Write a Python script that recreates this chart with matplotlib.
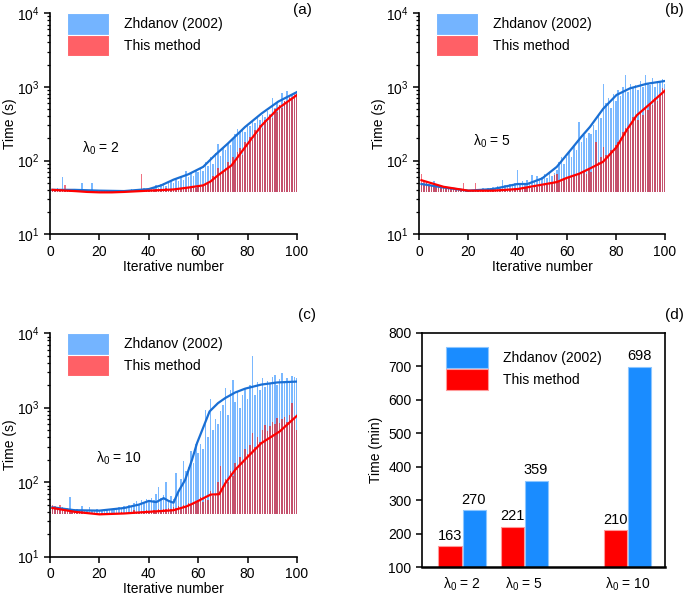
import numpy as np
import matplotlib
matplotlib.use("Agg")
import matplotlib.pyplot as plt
from matplotlib.patches import Patch

plt.rcParams['font.family'] = ['Liberation Sans', 'DejaVu Sans']
plt.rcParams['mathtext.fontset'] = 'custom'
plt.rcParams['mathtext.rm'] = 'Liberation Sans'
plt.rcParams['mathtext.it'] = 'Liberation Sans:italic'
plt.rcParams['font.size'] = 10

# iteraciones
iters = np.arange(1, 101)

# panel (a), lambda0 = 2
a_zh = [41, 40, 42, 41, 60, 40, 41, 40, 39, 40,
        40, 39, 50, 40, 39, 40, 50, 39, 38, 39,
        38, 39, 38, 39, 38, 40, 39, 38, 39, 40,
        39, 40, 41, 39, 40, 41, 40, 42, 41, 40,
        43, 44, 46, 42, 48, 50, 45, 52, 55, 50,
        58, 52, 62, 55, 72, 60, 68, 62, 75, 70,
        80, 72, 95, 85, 110, 90, 125, 170, 115, 150,
        140, 175, 160, 200, 230, 270, 250, 270, 240, 310,
        290, 340, 320, 380, 350, 420, 390, 470, 430, 700,
        520, 600, 560, 820, 650, 870, 700, 800, 760, 850]
a_our = [40, 41, 39, 40, 40, 47, 39, 38, 39, 38,
         38, 37, 38, 37, 37, 37, 38, 37, 37, 37,
         37, 38, 37, 38, 38, 37, 38, 39, 38, 39,
         38, 39, 38, 39, 40, 39, 65, 39, 40, 38,
         40, 39, 41, 40, 41, 40, 42, 41, 41, 40,
         42, 41, 43, 41, 44, 42, 43, 44, 42, 45,
         44, 47, 46, 48, 52, 62, 58, 80, 65, 72,
         78, 95, 85, 110, 98, 130, 150, 120, 180, 160,
         210, 190, 260, 230, 300, 280, 360, 330, 420, 380,
         500, 460, 560, 520, 650, 600, 720, 680, 800, 760]
a_zh_lx = [1, 10, 20, 30, 40, 45, 50, 56, 62, 67, 72, 79, 85.7, 92.4, 100]
a_zh_ly = [40, 40, 39, 38.5, 41, 46, 55, 65, 82, 120, 170, 286, 436, 630, 850]
a_our_lx = [1, 10, 15, 20, 25, 30, 40, 50, 56, 62, 65, 68, 73.5, 79, 85.7, 92.4, 100]
a_our_ly = [40, 38.5, 37.5, 37, 37, 37.5, 39, 40.5, 43, 46, 52, 63, 86, 152, 300, 510, 776]

# panel (b), lambda0 = 5
b_zh = [48, 46, 52, 45, 47, 53, 44, 46, 43, 45,
        42, 44, 41, 43, 40, 41, 39, 40, 39, 40,
        39, 40, 40, 41, 40, 42, 41, 43, 42, 44,
        43, 45, 44, 54, 46, 45, 48, 47, 49, 74,
        48, 52, 47, 55, 50, 63, 52, 62, 56, 60,
        65, 58, 70, 62, 67, 75, 95, 112, 90, 110,
        130, 110, 160, 140, 333, 180, 220, 200, 235, 230,
        300, 260, 420, 380, 1100, 600, 700, 520, 800, 650,
        900, 750, 1000, 1440, 850, 1100, 950, 1050, 900, 1200,
        1000, 1440, 1100, 1050, 1300, 1000, 1200, 1150, 1290, 1100]
b_our = [66, 52, 50, 48, 46, 45, 47, 44, 43, 44,
         42, 43, 41, 42, 40, 41, 40, 50, 39, 40,
         39, 40, 50, 39, 39, 40, 39, 40, 39, 40,
         39, 40, 39, 41, 40, 40, 41, 40, 42, 41,
         42, 41, 43, 42, 44, 43, 45, 44, 46, 45,
         47, 46, 48, 50, 63, 65, 52, 55, 58, 57,
         60, 62, 64, 66, 68, 70, 72, 66, 75, 70,
         80, 178, 95, 110, 152, 120, 115, 140, 130, 160,
         180, 200, 240, 280, 260, 320, 390, 380, 350, 440,
         420, 520, 480, 600, 560, 700, 650, 800, 950, 860]
b_zh_lx = [1, 10, 20, 30, 40, 44, 50, 56, 62.6, 66, 69.5, 74.9, 80.3, 85.8, 92.6, 100]
b_zh_ly = [48, 43, 39, 41, 48, 48, 57, 82, 152, 210, 286, 505, 776, 955, 1100, 1200]
b_our_lx = [1, 10, 20, 30, 40, 50, 56, 60, 65, 69.5, 74.8, 80.3, 84.4, 88.5, 94, 100]
b_our_ly = [54, 44, 39, 39, 41, 47, 51, 58, 66, 78, 96, 152, 258, 410, 590, 890]

# panel (c), lambda0 = 10
c_zh = [48, 46, 47, 44, 46, 43, 45, 64, 42, 44,
        43, 42, 48, 41, 42, 47, 41, 42, 43, 41,
        42, 43, 42, 44, 43, 45, 44, 46, 45, 48,
        47, 50, 48, 52, 56, 50, 58, 54, 60, 56,
        62, 58, 70, 87, 62, 68, 102, 58, 66, 60,
        133, 75, 110, 190, 140, 160, 260, 180, 330, 250,
        330, 280, 930, 400, 1300, 500, 700, 600, 900, 1100,
        1860, 800, 1700, 2360, 1200, 1600, 1000, 1500, 1800, 1300,
        2000, 4900, 1500, 2200, 1700, 2500, 1900, 2300, 2100, 2600,
        2760, 2000, 2400, 2900, 2200, 2500, 2300, 2700, 2600, 2500]
c_our = [50, 48, 47, 50, 45, 44, 43, 42, 44, 41,
         40, 41, 42, 39, 40, 38, 39, 38, 38, 37,
         38, 37, 38, 38, 39, 38, 39, 38, 40, 39,
         38, 40, 39, 42, 39, 40, 41, 40, 42, 41,
         40, 42, 41, 43, 42, 44, 43, 45, 44, 46,
         45, 48, 46, 50, 48, 52, 50, 55, 52, 58,
         64, 55, 60, 58, 75, 65, 70, 100, 163, 90,
         110, 100, 140, 120, 180, 150, 220, 190, 280, 240,
         320, 460, 300, 400, 350, 500, 590, 480, 560, 650,
         600, 730, 620, 700, 750, 650, 800, 1170, 700, 500]
c_zh_lx = [1, 10, 20, 30, 36, 40, 43, 46, 48, 50, 52, 54.7, 57.5, 59.5, 62.2,
           64.6, 68, 71, 75, 79, 85.5, 92, 100]
c_zh_ly = [46, 42, 41.5, 45, 50, 56, 54, 61, 56, 53, 75, 107, 200, 333, 560,
           890, 1150, 1350, 1600, 1800, 2040, 2180, 2240]
c_our_lx = [1, 10, 20, 30, 40, 50, 55, 57.5, 60, 63, 65, 68.5, 71, 75, 79.5, 85.5, 93, 100]
c_our_ly = [45, 40, 37, 38, 40, 42, 47, 51, 56, 63, 68, 69, 97, 147, 210, 333, 480, 780]

# panel (d)
lam_labels = [r'λ$_0$ = 2', r'λ$_0$ = 5', r'λ$_0$ = 10']
d_our = [163, 221, 210]
d_zh = [270, 359, 698]

C_BAR_ZH = '#7ab8ff'
C_BAR_OUR = '#f07282'      # rojo solo
C_BAR_OVER = '#c4506c'     # rojo sobre azul
C_LINE_ZH = '#1a6fd4'
C_LINE_OUR = '#ff0000'
BASE = 37

fig = plt.figure(figsize=(6.85, 5.96), dpi=100)


def panel_log(rect, zh, our, zlx, zly, olx, oly, lam_txt, lam_pos):
    ax = fig.add_axes(rect)
    ax.set_yscale('log')
    zh = np.array(zh)
    our = np.array(our)
    ax.bar(iters, zh - BASE, bottom=BASE, width=0.62, color=C_BAR_ZH, linewidth=0)
    ax.bar(iters, our - BASE, bottom=BASE, width=0.62, color=C_BAR_OUR, linewidth=0)
    ax.bar(iters, np.minimum(zh, our) - BASE, bottom=BASE, width=0.62,
           color=C_BAR_OVER, linewidth=0)
    ax.plot(zlx, zly, color=C_LINE_ZH, lw=1.6)
    ax.plot(olx, oly, color=C_LINE_OUR, lw=1.6)
    ax.set_xlim(0, 100)
    ax.set_ylim(10, 1e4)
    ax.set_xticks([0, 20, 40, 60, 80, 100])
    ax.spines['top'].set_visible(False)
    ax.spines['right'].set_visible(False)
    for s in ['left', 'bottom']:
        ax.spines[s].set_linewidth(1.2)
    ax.tick_params(which='major', length=4, width=1.1)
    ax.tick_params(which='minor', length=2.5, width=0.9)
    ax.set_xlabel('Iterative number', labelpad=1)
    ax.set_ylabel('Time (s)', labelpad=0)
    handles = [Patch(facecolor='#74b4ff', edgecolor='white', lw=0.8),
               Patch(facecolor='#ff6066', edgecolor='white', lw=0.8)]
    ax.legend(handles, ['Zhdanov (2002)', 'This method'], loc='upper left',
              bbox_to_anchor=(0.07, 1.0), frameon=False, borderaxespad=0, borderpad=0,
              handlelength=3.0, handleheight=2.0, labelspacing=0.0, handletextpad=1.1)
    ax.text(lam_pos[0], lam_pos[1], lam_txt, transform=ax.transAxes, va='center', ha='left')
    return ax


panel_log([0.073, 0.607, 0.3606, 0.371], a_zh, a_our, a_zh_lx, a_zh_ly,
          a_our_lx, a_our_ly, r'λ$_0$ = 2', (0.13, 0.39))
panel_log([0.6117, 0.607, 0.3591, 0.371], b_zh, b_our, b_zh_lx, b_zh_ly,
          b_our_lx, b_our_ly, r'λ$_0$ = 5', (0.22, 0.42))
panel_log([0.073, 0.066, 0.3606, 0.375], c_zh, c_our, c_zh_lx, c_zh_ly,
          c_our_lx, c_our_ly, r'λ$_0$ = 10', (0.185, 0.44))

# panel (d)
axd = fig.add_axes([0.616, 0.048, 0.355, 0.394])
pos = np.array([1.65, 4.2, 8.45])
w = 0.95
r1 = axd.bar(pos - w / 2 - 0.02, np.array(d_our) - 100, bottom=100, width=w,
             color='#ff0000', edgecolor='#ff9a9a', lw=0.8)
r2 = axd.bar(pos + w / 2 + 0.02, np.array(d_zh) - 100, bottom=100, width=w,
             color='#1a8cff', edgecolor='#8cc6ff', lw=0.8)
for p, v in zip(pos - w / 2, d_our):
    axd.text(p, v + 10, str(v), ha='center', va='bottom', fontsize=10.5)
for p, v in zip(pos + w / 2, d_zh):
    axd.text(p, v + 10, str(v), ha='center', va='bottom', fontsize=10.5)
axd.set_xlim(0, 10)
axd.set_ylim(100, 800)
axd.set_yticks(range(100, 801, 100))
axd.set_xticks(pos)
axd.set_xticklabels(lam_labels)
axd.tick_params(axis='x', length=0, pad=6)
axd.tick_params(axis='y', length=4, width=1.1)
for s in axd.spines.values():
    s.set_linewidth(1.2)
axd.spines['bottom'].set_linewidth(1.8)
axd.set_ylabel('Time (min)', labelpad=4)
axd.legend([r2, r1], ['Zhdanov (2002)', 'This method'], loc='upper left',
           bbox_to_anchor=(0.1, 0.94), frameon=False, borderaxespad=0, borderpad=0,
           handlelength=3.0, handleheight=2.0, labelspacing=0.05, handletextpad=1.1)

fig.text(0.455, 0.983, '(a)', ha='right', va='center', fontsize=11)
fig.text(0.998, 0.983, '(b)', ha='right', va='center', fontsize=11)
fig.text(0.461, 0.471, '(c)', ha='right', va='center', fontsize=11)
fig.text(0.998, 0.471, '(d)', ha='right', va='center', fontsize=11)

fig.savefig('out.png', dpi=100)
